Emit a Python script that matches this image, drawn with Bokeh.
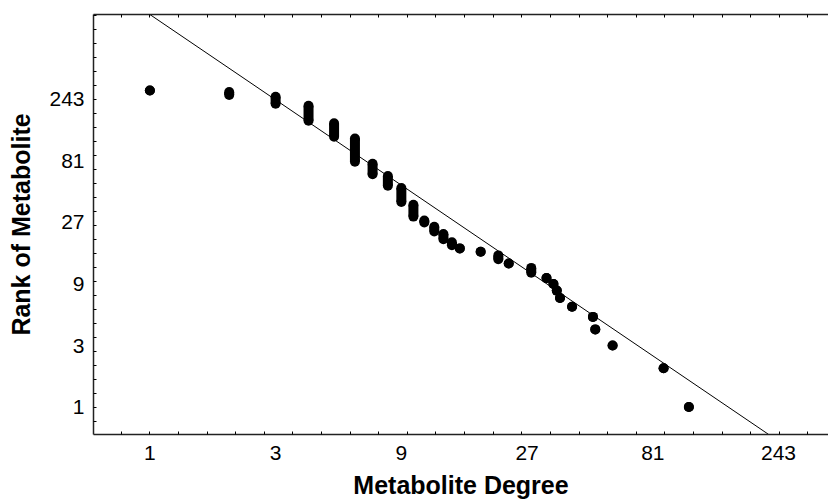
import math
from bokeh.plotting import figure
from bokeh.models import LogAxis, FixedTicker, Range1d
from bokeh.embed import file_html
from bokeh.resources import INLINE

# Metabolite degree (x) and the span of ranks (y) for metabolites sharing that degree
degree = [1, 2, 3, 4, 5, 6, 7, 8, 9, 10, 11, 12, 13, 14, 15, 18, 21, 23, 28,
          32, 34, 35, 36, 40, 48, 49, 57, 89, 111]
rank_high = [285, 278, 255, 217, 159, 121, 77, 62, 50, 37, 28, 25, 22, 19, 17,
             16, 15, 13, 12, 10, 9, 8, 7, 6, 5, 4, 3, 2, 1]
rank_low = [285, 263, 225, 166, 125, 80, 64, 52, 39, 30, 27, 23, 20, 18, 17,
            16, 14, 13, 11, 10, 9, 8, 7, 6, 5, 4, 3, 2, 1]

# Power-law fit line end points
fit_x = [1.0, 223.0]
fit_y = [1109.0, 0.612]

tick_values = [1, 3, 9, 27, 81, 243]
tick_labels = ["1", "3", "9", "27", "81", "243"]

FONT = "Liberation Sans"

p = figure(width=828, height=501, x_axis_type="log", y_axis_type="log",
           x_range=Range1d(0.611, 376), y_range=Range1d(0.612, 1109),
           output_backend="svg", toolbar_location=None,
           min_border_left=93, min_border_right=0, min_border_top=14,
           min_border_bottom=67)
p.outline_line_color = None
p.grid.visible = False
p.background_fill_color = "white"
p.border_fill_color = "white"

minor = [math.exp(k / 4) for k in range(-3, 30)]
overrides = {v: s for v, s in zip(tick_values, tick_labels)}

for ax in (p.xaxis[0], p.yaxis[0]):
    ax.ticker = FixedTicker(ticks=tick_values, minor_ticks=minor)
    ax.major_label_overrides = overrides
    ax.major_tick_in = 0
    ax.major_tick_out = 0
    ax.minor_tick_in = 3
    ax.minor_tick_out = 0
    ax.axis_line_color = "#222222"
    ax.axis_line_width = 1.5
    ax.major_label_text_font = FONT
    ax.major_label_text_font_size = "21px"
    ax.major_label_text_color = "black"
    ax.axis_label_text_font = FONT
    ax.axis_label_text_font_style = "bold"
    ax.axis_label_text_font_size = "25px"
    ax.axis_label_text_color = "black"

p.xaxis[0].axis_label = "Metabolite Degree"
p.xaxis[0].major_label_standoff = 11
p.xaxis[0].axis_label_standoff = 8
p.yaxis[0].axis_label = "Rank of Metabolite"
p.yaxis[0].major_label_standoff = 9
p.yaxis[0].axis_label_standoff = 11

top = LogAxis(ticker=FixedTicker(ticks=[], minor_ticks=minor))
top.major_tick_in = 0
top.major_tick_out = 0
top.minor_tick_in = 3
top.minor_tick_out = 0
top.axis_line_color = "#222222"
top.axis_line_width = 1.5
top.major_label_text_font_size = "0px"
p.add_layout(top, "above")

p.line(fit_x, fit_y, line_color="black", line_width=1)
p.segment(x0=degree, y0=rank_low, x1=degree, y1=rank_high,
          line_color="black", line_width=10)
p.scatter(degree, rank_high, size=10, color="black", line_alpha=0)
p.scatter(degree, rank_low, size=10, color="black", line_alpha=0)

open("out.html", "w").write(file_html(p, INLINE))
